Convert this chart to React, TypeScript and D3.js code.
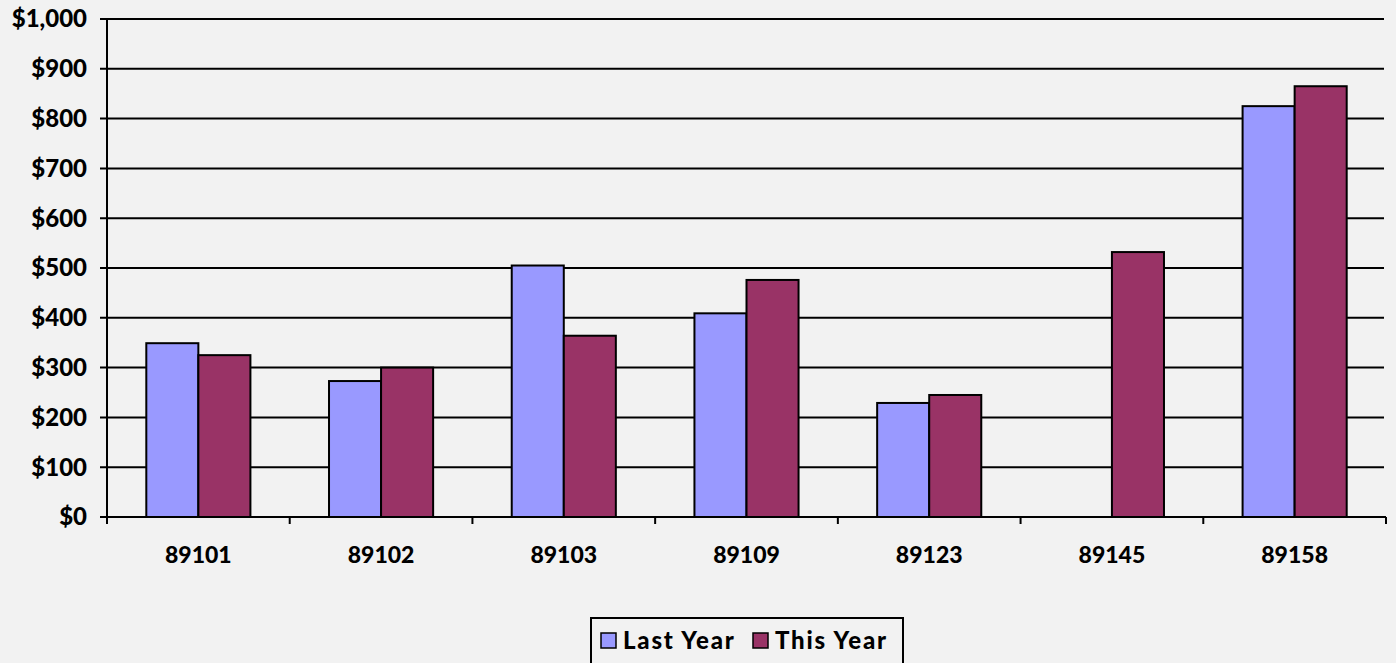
import React from "react";
import * as d3 from "d3";

const categories = ["89101", "89102", "89103", "89109", "89123", "89145", "89158"];
const lastYear = [349, 273, 505, 409, 229, 0, 825];
const thisYear = [325, 300, 364, 476, 245, 532, 865];
const seriesNames = ["Last Year", "This Year"];
const seriesColors = ["#9999ff", "#993366"];
const yTicks = [0, 100, 200, 300, 400, 500, 600, 700, 800, 900, 1000];

const W = 1396;
const H = 663;
const plot = { left: 107, right: 1386, top: 19, bottom: 517 };
const FONT = "Lato, 'DejaVu Sans', sans-serif";

export default function App() {
  const x = d3.scaleBand<string>().domain(categories).range([plot.left, plot.right]).paddingInner(0).paddingOuter(0);
  const y = d3.scaleLinear().domain([0, 1000]).range([plot.bottom, plot.top]);
  const sub = d3
    .scaleBand<string>()
    .domain(seriesNames)
    .range([0, x.bandwidth()])
    .paddingInner(0)
    .paddingOuter(0.755);
  const fmt = (v: number) => "$" + d3.format(",")(v);
  const series = [lastYear, thisYear];

  return (
    <svg
      width={W}
      height={H}
      style={{ position: "absolute", left: 0, top: 0, background: "#f2f2f2", fontFamily: FONT }}
    >
      <rect x={0} y={0} width={W} height={H} fill="#f2f2f2" />
      {/* gridlines */}
      {yTicks.map((t) => (
        <line key={"g" + t} x1={plot.left - 7} x2={plot.right - 2} y1={y(t)} y2={y(t)} stroke="#000" strokeWidth={2} />
      ))}
      {/* y tick labels */}
      {yTicks.map((t) => (
        <text
          key={"yl" + t}
          x={87}
          y={y(t)}
          dy="0.35em"
          textAnchor="end"
          fontSize={24}
          fontWeight={900}
          fill="#000"
        >
          {fmt(t)}
        </text>
      ))}
      {/* bars */}
      {categories.map((c, i) =>
        series.map((s, k) =>
          s[i] > 0 ? (
            <rect
              key={c + k}
              x={(x(c) as number) + (sub(seriesNames[k]) as number)}
              y={y(s[i])}
              width={sub.bandwidth()}
              height={y(0) - y(s[i])}
              fill={seriesColors[k]}
              stroke="#000"
              strokeWidth={2}
            />
          ) : null
        )
      )}
      {/* axes */}
      <line x1={plot.left} x2={plot.left} y1={plot.top} y2={plot.bottom + 7} stroke="#000" strokeWidth={2} />
      <line x1={plot.left} x2={plot.right} y1={plot.bottom} y2={plot.bottom} stroke="#000" strokeWidth={2} />
      {categories.map((c) => (
        <line
          key={"t" + c}
          x1={(x(c) as number) + x.bandwidth()}
          x2={(x(c) as number) + x.bandwidth()}
          y1={plot.bottom}
          y2={plot.bottom + 7}
          stroke="#000"
          strokeWidth={2}
        />
      ))}
      {categories.map((c) => (
        <text
          key={"xl" + c}
          x={(x(c) as number) + x.bandwidth() / 2}
          y={563}
          textAnchor="middle"
          fontSize={23}
          fontWeight={900}
          fill="#000"
        >
          {c}
        </text>
      ))}
      {/* legend */}
      <rect x={591} y={618} width={312} height={50} fill="#f2f2f2" stroke="#000" strokeWidth={2} />
      {seriesNames.map((n, k) => {
        const lx = k === 0 ? 601 : 753;
        return (
          <g key={n}>
            <rect x={lx} y={633} width={15} height={15} fill={seriesColors[k]} stroke="#000" strokeWidth={1.5} />
            <text x={lx + 22} y={649} fontSize={24} fontWeight={900} fill="#000" letterSpacing={1.8}>
              {n}
            </text>
          </g>
        );
      })}
    </svg>
  );
}
